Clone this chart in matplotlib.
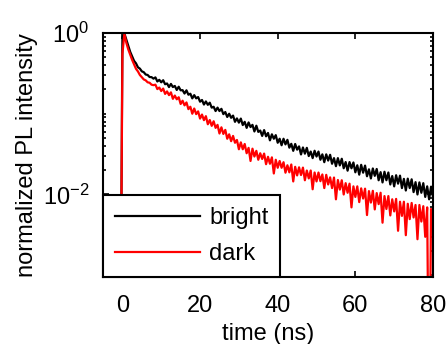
import numpy as np
import matplotlib
matplotlib.use("Agg")
import matplotlib.pyplot as plt
from matplotlib.ticker import FixedLocator, LogLocator, NullFormatter

# ------------------------------------------------------------------
# Data: normalized PL decay, bright vs dark region
# ------------------------------------------------------------------
time_ns = [
    -5.0, -0.5, 0.0, 0.5,
    1.0, 1.5, 2.0, 2.5, 3.0, 3.5, 4.0, 4.5, 5.0, 5.5,
    6.0, 6.5, 7.0, 7.5, 8.0, 8.5, 9.0, 9.5, 10.0, 10.5,
    11.0, 11.5, 12.0, 12.5, 13.0, 13.5, 14.0, 14.5, 15.0, 15.5,
    16.0, 16.5, 17.0, 17.5, 18.0, 18.5, 19.0, 19.5, 20.0, 20.5,
    21.0, 21.5, 22.0, 22.5, 23.0, 23.5, 24.0, 24.5, 25.0, 25.5,
    26.0, 26.5, 27.0, 27.5, 28.0, 28.5, 29.0, 29.5, 30.0, 30.5,
    31.0, 31.5, 32.0, 32.5, 33.0, 33.5, 34.0, 34.5, 35.0, 35.5,
    36.0, 36.5, 37.0, 37.5, 38.0, 38.5, 39.0, 39.5, 40.0, 40.5,
    41.0, 41.5, 42.0, 42.5, 43.0, 43.5, 44.0, 44.5, 45.0, 45.5,
    46.0, 46.5, 47.0, 47.5, 48.0, 48.5, 49.0, 49.5, 50.0, 50.5,
    51.0, 51.5, 52.0, 52.5, 53.0, 53.5, 54.0, 54.5, 55.0, 55.5,
    56.0, 56.5, 57.0, 57.5, 58.0, 58.5, 59.0, 59.5, 60.0, 60.5,
    61.0, 61.5, 62.0, 62.5, 63.0, 63.5, 64.0, 64.5, 65.0, 65.5,
    66.0, 66.5, 67.0, 67.5, 68.0, 68.5, 69.0, 69.5, 70.0, 70.5,
    71.0, 71.5, 72.0, 72.5, 73.0, 73.5, 74.0, 74.5, 75.0, 75.5,
    76.0, 76.5, 77.0, 77.5, 78.0, 78.5, 79.0, 79.5, 80.0,
]

bright = [
    1e-4, 1e-4, 0.89, 0.99,
    0.832, 0.695, 0.585, 0.516, 0.452, 0.421, 0.376, 0.362, 0.335, 0.327,
    0.306, 0.302, 0.285, 0.284, 0.272, 0.282, 0.251, 0.263, 0.245, 0.260,
    0.232, 0.237, 0.214, 0.234, 0.214, 0.221, 0.197, 0.216, 0.195, 0.196,
    0.178, 0.195, 0.172, 0.177, 0.155, 0.170, 0.155, 0.161, 0.141, 0.148,
    0.130, 0.142, 0.129, 0.137, 0.119, 0.122, 0.108, 0.119, 0.108, 0.115,
    0.0989, 0.105, 0.0912, 0.100, 0.0891, 0.0948, 0.0794, 0.0875, 0.0776, 0.0871,
    0.0724, 0.0794, 0.0668, 0.0780, 0.0684, 0.0728, 0.0603, 0.0711, 0.0596, 0.0619,
    0.0531, 0.0627, 0.0525, 0.0578, 0.0468, 0.0556, 0.0490, 0.0543, 0.0437, 0.0490,
    0.0407, 0.0490, 0.0417, 0.0475, 0.0380, 0.0424, 0.0347, 0.0422, 0.0359, 0.0394,
    0.0313, 0.0382, 0.0320, 0.0378, 0.0299, 0.0340, 0.0282, 0.0348, 0.0295, 0.0340,
    0.0269, 0.0314, 0.0251, 0.0314, 0.0263, 0.0310, 0.0240, 0.0282, 0.0224, 0.0282,
    0.0229, 0.0277, 0.0211, 0.0252, 0.0197, 0.0252, 0.0211, 0.0249, 0.0188, 0.0230,
    0.0176, 0.0233, 0.0186, 0.0228, 0.0168, 0.0205, 0.0158, 0.0210, 0.0170, 0.0207,
    0.0150, 0.0189, 0.0141, 0.0191, 0.0150, 0.0187, 0.0133, 0.0169, 0.0126, 0.0173,
    0.0136, 0.0171, 0.0120, 0.0156, 0.0112, 0.0157, 0.0120, 0.0154, 0.0107, 0.0142,
    0.0100, 0.0141, 0.0105, 0.0138, 0.00933, 0.0126, 0.00871, 0.0125, 0.00933,
]

dark = [
    1e-4, 1e-4, 0.55, 0.98,
    0.759, 0.628, 0.540, 0.465, 0.410, 0.360, 0.334, 0.302, 0.284, 0.266,
    0.259, 0.245, 0.242, 0.229, 0.226, 0.229, 0.202, 0.211, 0.191, 0.205,
    0.176, 0.189, 0.170, 0.184, 0.153, 0.168, 0.151, 0.160, 0.132, 0.145,
    0.127, 0.138, 0.114, 0.122, 0.100, 0.116, 0.0989, 0.107, 0.0871, 0.0977,
    0.0832, 0.0933, 0.0741, 0.0836, 0.0708, 0.0807, 0.0668, 0.0728, 0.0569, 0.0679,
    0.0562, 0.0631, 0.0490, 0.0556, 0.0457, 0.0531, 0.0437, 0.0473, 0.0363, 0.0442,
    0.0363, 0.0422, 0.0324, 0.0378, 0.0260, 0.0369, 0.0295, 0.0347, 0.0269, 0.0324,
    0.0275, 0.0321, 0.0237, 0.0293, 0.0240, 0.0288, 0.0182, 0.0269, 0.0214, 0.0260,
    0.0214, 0.0251, 0.0186, 0.0230, 0.0188, 0.0235, 0.0145, 0.0220, 0.0172, 0.0217,
    0.0174, 0.0215, 0.0150, 0.0198, 0.0158, 0.0198, 0.0116, 0.0187, 0.0145, 0.0187,
    0.0146, 0.0177, 0.0120, 0.0175, 0.0133, 0.0163, 0.0120, 0.0162, 0.00871, 0.0151,
    0.0115, 0.0150, 0.0100, 0.0138, 0.0105, 0.0136, 0.00692, 0.0126, 0.00933, 0.0126,
    0.00804, 0.0119, 0.00891, 0.0118, 0.00556, 0.0110, 0.00794, 0.0111, 0.00653, 0.0104,
    0.00759, 0.0105, 0.00447, 0.00955, 0.00661, 0.00955, 0.00550, 0.00871, 0.00617, 0.00881,
    0.00355, 0.00813, 0.00543, 0.00813, 0.00313, 0.00767, 0.00495, 0.00785, 0.00519, 0.00741,
    0.00279, 0.00741, 0.00462, 0.00716, 0.00299, 0.00692, 1e-5, 0.00661, 0.00452,
]

x_ticks = [0, 20, 40, 60, 80]
y_ticks = [1e-2, 1e0]
y_tick_labels = [r"$10^{-2}$", r"$10^{0}$"]

# ------------------------------------------------------------------
# Style (MATLAB-like look)
# ------------------------------------------------------------------
plt.rcParams["font.family"] = ["Liberation Sans", "DejaVu Sans"]
plt.rcParams["mathtext.fontset"] = "custom"
plt.rcParams["mathtext.rm"] = "Liberation Sans"
plt.rcParams["mathtext.it"] = "Liberation Sans:italic"
plt.rcParams["font.size"] = 17

fig = plt.figure(figsize=(4.48, 3.44), dpi=100)
ax = fig.add_axes([103 / 448, 67 / 344, 330 / 448, 244 / 344])

ax.plot(time_ns, bright, color="black", lw=1.6, label="bright")
ax.plot(time_ns, dark, color="#ff0000", lw=1.6, label="dark")

ax.set_yscale("log")
ax.set_xlim(-5, 80)
ax.set_ylim(9.5e-4, 1)

ax.xaxis.set_major_locator(FixedLocator(x_ticks))
ax.yaxis.set_major_locator(FixedLocator(y_ticks))
ax.set_yticklabels(y_tick_labels)
ax.yaxis.set_minor_locator(LogLocator(base=10, subs=np.arange(1, 10)))
ax.yaxis.set_minor_formatter(NullFormatter())

ax.tick_params(which="both", direction="in", top=True, right=True,
               width=1.2, labelsize=17)
ax.tick_params(which="major", length=4)
ax.tick_params(which="minor", length=2.5)
ax.tick_params(axis="x", pad=13)
ax.tick_params(axis="y", pad=10)

for sp in ax.spines.values():
    sp.set_linewidth(1.5)

ax.set_xlabel("time (ns)", fontsize=17, labelpad=4)
ax.set_ylabel("normalized PL intensity", fontsize=17, labelpad=3)

leg = ax.legend(loc="lower left", bbox_to_anchor=(0, 0), borderaxespad=0,
                fancybox=False, framealpha=1, edgecolor="black",
                handlelength=3.6, handletextpad=0.4, labelspacing=0.6,
                borderpad=0.5, fontsize=17)
leg.get_frame().set_linewidth(1.5)

fig.savefig("out.png", dpi=100)
